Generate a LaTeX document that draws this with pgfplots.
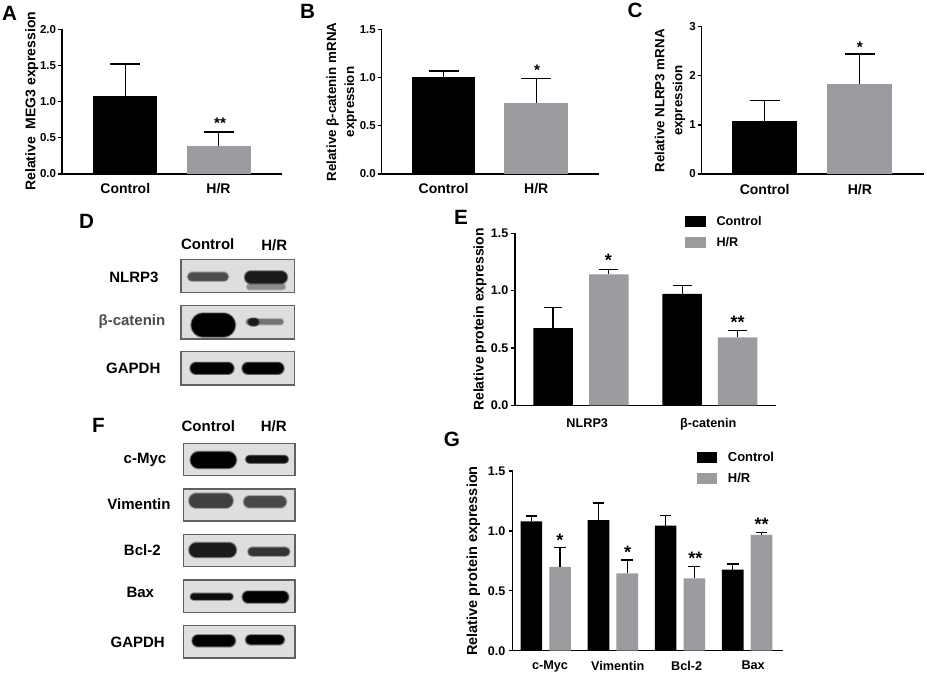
\documentclass[border=0pt]{standalone}
\usepackage{fontspec}
\setmainfont{Liberation Sans}
\usepackage{pgfplots}
\pgfplotsset{compat=1.18}

\definecolor{hrgray}{RGB}{155,155,160}
\newcommand\fs[1]{\fontsize{#1}{#1}\selectfont\bfseries}

\pgfplotsset{
  panel/.style={
    scale only axis, ybar, bar shift=0pt, clip=false,
    axis x line=bottom, axis y line=left,
    axis line style={-,line width=1pt},
    tick align=outside, major tick length=3pt,
    ytick style={line width=1pt,black}, xtick style={draw=none},
    ymin=0, enlargelimits=false,
    /pgf/number format/.cd, fixed, fixed zerofill, precision=1, assume math mode=true,
    /pgfplots/.cd,
    error bars/y dir=plus, error bars/y explicit,
  },
  ctl/.style={fill=black,draw=none,error bars/error bar style={draw=black,line width=1pt},
    error bars/error mark options={rotate=90,draw=black,line width=1pt,mark size=#1}},
  hr/.style={fill=hrgray,draw=none,error bars/error bar style={draw=black,line width=1pt},
    error bars/error mark options={rotate=90,draw=black,line width=1pt,mark size=#1}},
  swatches/.style={
    legend image code/.code={\fill[##1] (0pt,-4pt) rectangle (15.7pt,4pt); \path (21.5pt,0pt);},
    legend cell align=left,
  },
}
\tikzset{
  star/.style={font=\fs{11.5}, inner sep=0pt, anchor=north, yshift=2.5pt},
  bigstar/.style={font=\fs{13.5}, inner sep=0pt, anchor=north, yshift=3pt},
  lab/.style={font=\fs{11.25}, inner sep=0pt, text height=0.72em, text depth=0pt, anchor=center},
  letter/.style={font=\fs{15.5}, inner sep=0pt, text height=0.72em, text depth=0pt, anchor=center},
}

% blot frame: x1 y1 x2 y2, in image pixels
\newcommand\blot[4]{%
  \addplot[draw=black!62,fill=black!13,line width=1pt] coordinates {(#1,#2)(#3,#2)(#3,#4)(#1,#4)} --cycle;
}
% blot band: x1 x2 y thickness grey, soft edge built from stacked strokes
\newcommand\bandstroke[6]{%
  \addplot[line cap=round,black!#5,opacity=#6,line width={max(#4,0.5)*0.75pt}] coordinates {(#1,#3)(#2,#3)};
}
\newcommand\band[5]{%
  \bandstroke{#1}{#2}{#3}{#4+3.2}{#5}{.10}
  \bandstroke{#1}{#2}{#3}{#4+2.6}{#5}{.14}
  \bandstroke{#1}{#2}{#3}{#4+2.0}{#5}{.20}
  \bandstroke{#1}{#2}{#3}{#4+1.4}{#5}{.28}
  \bandstroke{#1}{#2}{#3}{#4+0.8}{#5}{.38}
  \bandstroke{#1}{#2}{#3}{#4+0.2}{#5}{.50}
  \bandstroke{#1}{#2}{#3}{#4-0.4}{#5}{.65}
  \bandstroke{#1}{#2}{#3}{#4-1.0}{#5}{.85}
}

\begin{document}
\begin{tikzpicture}
\useasboundingbox (0,0) rectangle (695.25pt,506.25pt);

% page layer, in image pixels: letters, blots and their labels
\begin{axis}[at={(0pt,0pt)},anchor=south west,scale only axis,width=695.25pt,height=506.25pt,
  xmin=0,xmax=927,ymin=0,ymax=675,y dir=reverse,hide axis,clip=false,no markers]
\node[letter] at (axis cs:9.5,15.5) {A};
\node[letter] at (axis cs:307.5,13.5) {B};
\node[letter] at (axis cs:635,13) {C};
\node[letter] at (axis cs:86.5,224) {D};
\node[letter] at (axis cs:461,220) {E};
\node[letter] at (axis cs:98.5,428) {F};
\node[letter] at (axis cs:452,442) {G};

\node[lab] at (axis cs:207.7,244.3) {Control};
\node[lab] at (axis cs:274.3,245.7) {H/R};
\node[lab] at (axis cs:134,277.3) {NLRP3};
\node[lab,text=black!70] at (axis cs:132,321) {β-catenin};
\node[lab] at (axis cs:133.3,368.3) {GAPDH};

\blot{181}{259.3}{294.3}{292.3}
\band{192}{224}{276.7}{8}{70}
\band{249.5}{282.5}{286.7}{5}{45}
\band{251}{281}{277.3}{12}{90}
\blot{181}{305.7}{294.3}{339}
\band{203}{223.5}{325}{23}{100}
\band{249}{280.5}{321.7}{5}{55}
\band{252}{255}{322}{7}{90}
\blot{181}{351.7}{294.3}{385}
\band{196}{228}{368.3}{11}{100}
\band{248}{278}{368.3}{11}{100}

\node[lab] at (axis cs:208.3,426.7) {Control};
\node[lab] at (axis cs:273.7,426.7) {H/R};
\node[lab] at (axis cs:145,458.3) {c-Myc};
\node[lab] at (axis cs:139,505) {Vimentin};
\node[lab] at (axis cs:142.3,551) {Bcl-2};
\node[lab] at (axis cs:140.3,592.7) {Bax};
\node[lab] at (axis cs:137.7,642.7) {GAPDH};

\blot{183.3}{443.3}{295}{475.3}
\band{198.7}{228}{460}{16}{100}
\band{249.5}{284.5}{459.3}{7}{95}
\blot{183.3}{489}{295}{521}
\band{196.3}{225.7}{500.7}{14}{75}
\band{249.5}{280.5}{501.7}{11}{72}
\blot{183.3}{534.3}{295}{566.7}
\band{196.3}{229}{550}{14}{90}
\band{252.3}{285.3}{551.7}{8}{80}
\blot{183.3}{580}{295}{612.3}
\band{193.7}{229.7}{596.7}{6}{95}
\band{248.2}{282.8}{597}{11}{100}
\blot{183.3}{625.7}{295}{658}
\band{198}{229.5}{640.7}{11}{100}
\band{250.5}{279.5}{639.7}{9}{100}
\end{axis}

% A
\begin{axis}[panel,at={(46.5pt,375.75pt)},anchor=south west,width=165pt,height=108.5pt,
  xmin=-0.679,xmax=1.681,ymax=2,bar width=48pt,
  xtick={0,1},xticklabels={Control,H/R},ytick={0,0.5,1,1.5,2},
  xticklabel style={font=\fs{10.5},yshift=-0.5pt},yticklabel style={font=\fs{8.6},xshift=2pt},
  ylabel={Relative\ \ MEG3 expression},
  ylabel style={font=\fs{10.5},at={(axis description cs:-0.138,0.503)},anchor=center}]
\addplot[ctl=11.25pt] coordinates {(0,1.074) +- (0,0.446)};
\addplot[hr=11.25pt] coordinates {(1,0.383) +- (0,0.197)};
\node[star] at (axis cs:1.016,0.737) {**};
\end{axis}

% B
\begin{axis}[panel,at={(286.3pt,375.75pt)},anchor=south west,width=163pt,height=108.5pt,
  xmin=-0.667,xmax=1.677,ymax=1.5,bar width=47.8pt,
  xtick={0,1},xticklabels={Control,H/R},ytick={0,0.5,1,1.5},
  xticklabel style={font=\fs{10.5},yshift=-0.5pt},yticklabel style={font=\fs{8.6},xshift=2pt},
  ylabel={Relative β-catenin mRNA\\expression},
  ylabel style={font=\fontsize{10}{13.5}\selectfont\bfseries,align=center,at={(axis description cs:-0.184,0.498)},anchor=center}]
\addplot[ctl=11.25pt] coordinates {(0,1.005) +- (0,0.063)};
\addplot[hr=11.25pt] coordinates {(1,0.733) +- (0,0.259)};
\node[star] at (axis cs:1.009,1.099) {*};
\end{axis}

% C
\begin{axis}[panel,at={(526.3pt,375.75pt)},anchor=south west,width=166.7pt,height=110.5pt,
  xmin=-0.662,xmax=1.675,ymax=3,bar width=48.75pt,
  xtick={0,1},xticklabels={Control,H/R},ytick={0,1,2,3},
  /pgf/number format/precision=0,
  xticklabel style={font=\fs{10.5},yshift=-1pt},yticklabel style={font=\fs{8.6},xshift=2pt},
  ylabel={Relative NLRP3 mRNA\\expression},
  ylabel style={font=\fontsize{10}{13.5}\selectfont\bfseries,align=center,at={(axis description cs:-0.1435,0.497)},anchor=center}]
\addplot[ctl=11.25pt] coordinates {(0,1.073) +- (0,0.42)};
\addplot[hr=11.25pt] coordinates {(1,1.84) +- (0,0.60)};
\node[star] at (axis cs:1,2.627) {*};
\end{axis}

% E
\begin{axis}[panel,swatches,at={(386.25pt,202.3pt)},anchor=south west,width=195.75pt,height=129pt,
  xmin=-0.509,xmax=1.511,ymax=1.5,bar width=29.6pt,
  xtick={0.05,0.987},xticklabels={NLRP3,β-catenin},ytick={0,0.5,1,1.5},
  xticklabel style={font=\fs{9.5},yshift=-3.5pt},yticklabel style={font=\fs{9.4},xshift=1.5pt},
  ylabel={Relative protein expression},
  ylabel style={font=\fs{10.5},at={(axis description cs:-0.134,0.499)},anchor=center},
  legend style={at={(axis description cs:0.651,1.117)},anchor=north west,draw=none,fill=none,
    font=\fs{9.5},inner sep=0pt,row sep=3.25pt}]
\addplot[ctl=7pt] coordinates {(-0.214,0.672) +- (0,0.179) (0.785,0.971) +- (0,0.072)};
\addplot[hr=7pt] coordinates {(0.217,1.142) +- (0,0.044) (1.214,0.593) +- (0,0.061)};
\legend{Control,H/R}
\node[bigstar] at (axis cs:0.213,1.287) {*};
\node[bigstar] at (axis cs:1.214,0.744) {**};
\end{axis}

% G
\begin{axis}[panel,swatches,at={(384.5pt,18.2pt)},anchor=south west,width=202.5pt,height=134.8pt,
  xmin=-0.493,xmax=3.53,ymax=1.5,bar width=16.2pt,
  xtick={0.063,1.072,2.1,3.09},xticklabels={c-Myc,Vimentin,Bcl-2,Bax},ytick={0,0.5,1,1.5},
  xticklabel style={font=\fs{9.5},yshift=-1.3pt},yticklabel style={font=\fs{9.4},xshift=1pt},
  ylabel={Relative protein expression},
  ylabel style={font=\fs{10.9},at={(axis description cs:-0.146,0.499)},anchor=center},
  legend style={at={(axis description cs:0.68,1.122)},anchor=north west,draw=none,fill=none,
    font=\fs{9.75},inner sep=0pt,row sep=3.25pt}]
\addplot[ctl=4.4pt] coordinates {(-0.214,1.080) +- (0,0.044) (0.786,1.091) +- (0,0.142) (1.786,1.044) +- (0,0.086) (2.786,0.676) +- (0,0.048)};
\addplot[hr=4.4pt] coordinates {(0.214,0.699) +- (0,0.164) (1.214,0.646) +- (0,0.111) (2.214,0.604) +- (0,0.097) (3.214,0.966) +- (0,0.019)};
\legend{Control,H/R}
\node[bigstar] at (axis cs:0.211,0.941) {*};
\node[bigstar] at (axis cs:1.22,0.846) {*};
\node[bigstar] at (axis cs:2.228,0.796) {**};
\node[bigstar] at (axis cs:3.217,1.074) {**};
\end{axis}
\end{tikzpicture}
\end{document}
